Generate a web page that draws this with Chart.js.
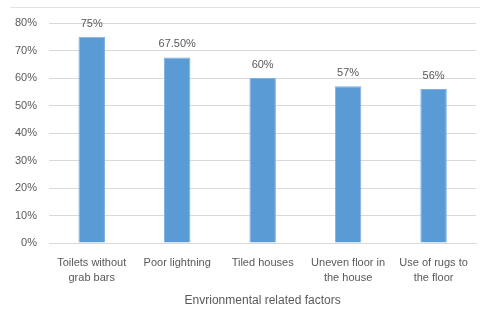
<!DOCTYPE html>
<html>
<head>
<meta charset="utf-8">
<script src="https://cdn.jsdelivr.net/npm/chart.js@4/dist/chart.umd.min.js"></script>
<style>
  html, body { margin: 0; padding: 0; background: #fff; }
  #wrap { width: 480px; height: 322px; }
</style>
</head>
<body>
<div id="wrap"><canvas id="c" width="480" height="322"></canvas></div>
<script>
const categories = [
  ["Toilets without", "grab bars"],
  ["Poor lightning"],
  ["Tiled houses"],
  ["Uneven floor in", "the house"],
  ["Use of rugs to", "the floor"]
];
const percentages = [75, 67.5, 60, 57, 56];
const valueLabels = ["75%", "67.50%", "60%", "57%", "56%"];
const yTicks = [0, 10, 20, 30, 40, 50, 60, 70, 80];
const axisTitle = "Envrionmental related factors";

const FONT = "'Liberation Sans', Arial, sans-serif";
const GREY = "#595959";

// Writes the value above each bar
const valueLabelPlugin = {
  id: "valueLabels",
  afterDatasetsDraw(chart) {
    const ctx = chart.ctx;
    const meta = chart.getDatasetMeta(0);
    ctx.save();
    ctx.font = "11px " + FONT;
    ctx.fillStyle = GREY;
    ctx.textAlign = "center";
    ctx.textBaseline = "middle";
    meta.data.forEach((bar, i) => {
      ctx.fillText(valueLabels[i], bar.x, bar.y - 13);
    });
    ctx.restore();
  }
};

// Thin frame line along the top of the chart
const frameLinePlugin = {
  id: "frameLine",
  beforeDraw(chart) {
    const ctx = chart.ctx;
    ctx.save();
    ctx.strokeStyle = "#e3e3e3";
    ctx.lineWidth = 1;
    ctx.beginPath();
    ctx.moveTo(10, 7.5);
    ctx.lineTo(480, 7.5);
    ctx.stroke();
    ctx.restore();
  }
};

new Chart(document.getElementById("c"), {
  type: "bar",
  data: {
    labels: categories,
    datasets: [{
      data: percentages,
      backgroundColor: "#5B9BD5",
      borderColor: "#7fb1e0",
      borderWidth: 1,
      barPercentage: 0.62,
      categoryPercentage: 0.5
    }]
  },
  options: {
    responsive: false,
    animation: false,
    layout: { padding: { top: 23, right: 2, left: 0, bottom: 14 } },
    plugins: {
      legend: { display: false },
      tooltip: { enabled: false }
    },
    scales: {
      y: {
        min: 0,
        max: 80,
        afterBuildTicks(scale) { scale.ticks = yTicks.map(v => ({ value: v })); },
        afterFit(scale) { scale.width = 49; },
        ticks: {
          callback: v => v + "%",
          color: GREY,
          font: { family: FONT, size: 11 },
          padding: 12
        },
        grid: { color: "#d9d9d9", drawTicks: false },
        border: { display: false }
      },
      x: {
        afterFit(scale) { scale.height = 65; },
        ticks: {
          color: GREY,
          font: { family: FONT, size: 11, lineHeight: 1.4 },
          padding: 12,
          maxRotation: 0,
          autoSkip: false
        },
        grid: { display: false, drawTicks: false },
        border: { display: true, color: "#d9d9d9" },
        title: {
          display: true,
          text: axisTitle,
          color: GREY,
          font: { family: FONT, size: 12 },
          padding: { top: 6, bottom: 0 }
        }
      }
    }
  },
  plugins: [valueLabelPlugin, frameLinePlugin]
});
</script>
</body>
</html>
